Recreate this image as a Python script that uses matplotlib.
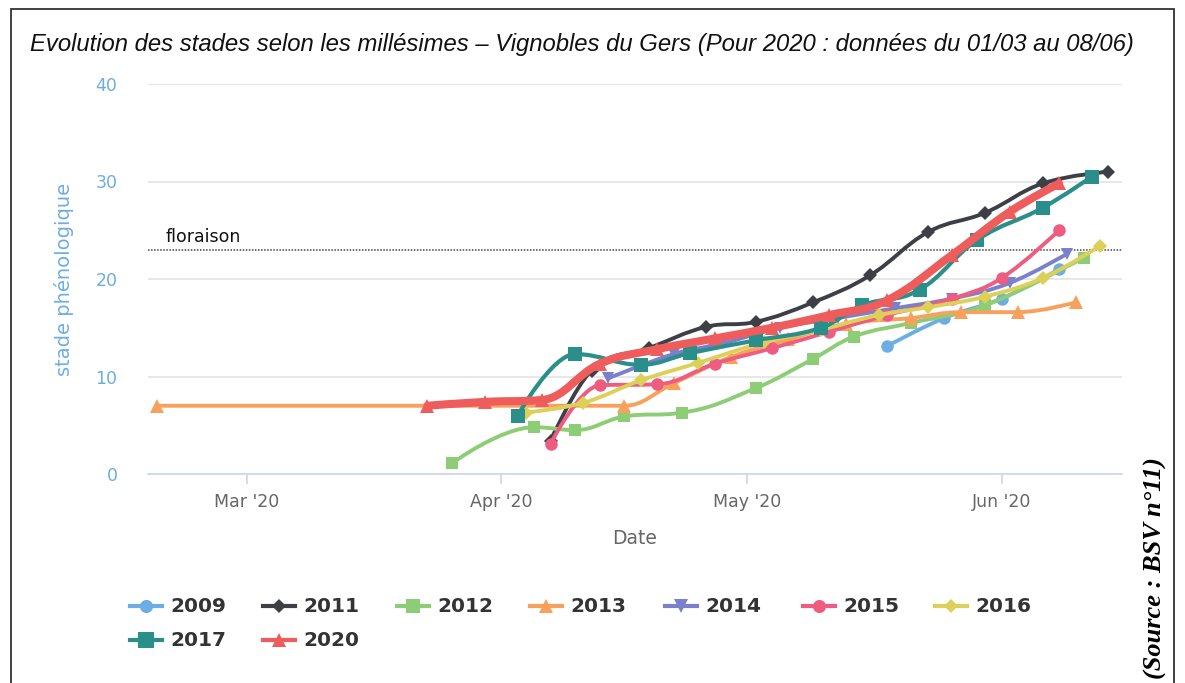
import numpy as np
import matplotlib
matplotlib.use("Agg")
import matplotlib.pyplot as plt
import matplotlib.dates as mdates
from matplotlib.path import Path
from matplotlib.patches import PathPatch, Rectangle
from matplotlib.lines import Line2D

# Donnees (stade phenologique par date, ramenee a 2020)
dates_2009 = ["2020-05-18", "2020-05-25", "2020-06-01", "2020-06-08"]
stade_2009 = [13.1, 16.0, 18.0, 21.0]

dates_2011 = ["2020-04-07", "2020-04-12", "2020-04-19", "2020-04-26", "2020-05-02",
              "2020-05-09", "2020-05-16", "2020-05-23", "2020-05-30", "2020-06-06",
              "2020-06-14"]
stade_2011 = [3.4, 10.6, 12.9, 15.1, 15.6, 17.6, 20.4, 24.8, 26.8, 29.8, 31.0]

dates_2012 = ["2020-03-26", "2020-04-05", "2020-04-10", "2020-04-16", "2020-04-23",
              "2020-05-02", "2020-05-09", "2020-05-14", "2020-05-21", "2020-05-30",
              "2020-06-11"]
stade_2012 = [1.1, 4.8, 4.5, 5.9, 6.3, 8.8, 11.8, 14.1, 15.5, 17.3, 22.2]

dates_2013 = ["2020-02-19", "2020-04-16", "2020-04-22", "2020-04-29", "2020-05-06",
              "2020-05-13", "2020-05-21", "2020-05-27", "2020-06-03", "2020-06-10"]
stade_2013 = [7.0, 7.0, 9.3, 12.0, 13.8, 15.4, 16.0, 16.6, 16.6, 17.6]

dates_2014 = ["2020-04-14", "2020-04-22", "2020-04-28", "2020-05-05", "2020-05-12",
              "2020-05-19", "2020-05-26", "2020-06-02", "2020-06-09"]
stade_2014 = [9.8, 12.3, 13.4, 15.0, 16.0, 17.0, 18.0, 19.6, 22.6]

dates_2015 = ["2020-04-07", "2020-04-13", "2020-04-20", "2020-04-27", "2020-05-04",
              "2020-05-11", "2020-05-18", "2020-05-26", "2020-06-01", "2020-06-08"]
stade_2015 = [3.1, 9.1, 9.2, 11.3, 12.9, 14.6, 16.3, 18.0, 20.1, 25.0]

dates_2016 = ["2020-04-04", "2020-04-11", "2020-04-18", "2020-04-25", "2020-05-03",
              "2020-05-10", "2020-05-17", "2020-05-23", "2020-05-30", "2020-06-06",
              "2020-06-13"]
stade_2016 = [6.3, 7.3, 9.6, 11.4, 13.5, 14.8, 16.3, 17.1, 18.2, 20.1, 23.4]

dates_2017 = ["2020-04-03", "2020-04-10", "2020-04-18", "2020-04-24", "2020-05-02",
              "2020-05-10", "2020-05-15", "2020-05-22", "2020-05-29", "2020-06-06",
              "2020-06-12"]
stade_2017 = [6.0, 12.3, 11.2, 12.4, 13.7, 15.0, 17.3, 18.9, 24.0, 27.3, 30.5]

dates_2020 = ["2020-03-23", "2020-03-30", "2020-04-06", "2020-04-13", "2020-04-20",
              "2020-04-27", "2020-05-04", "2020-05-11", "2020-05-18", "2020-05-26",
              "2020-06-02", "2020-06-08"]
stade_2020 = [7.0, 7.4, 7.6, 11.3, 12.8, 13.9, 15.0, 16.3, 17.8, 22.5, 26.9, 29.8]

floraison = 23.0

# label, dates, valeurs, couleur, marqueur, taille marqueur, epaisseur
series = [
    ("2009", dates_2009, stade_2009, "#6caee3", "o", 9.0, 2.8),
    ("2011", dates_2011, stade_2011, "#3c3f45", "D", 6.8, 2.8),
    ("2012", dates_2012, stade_2012, "#8ccd76", "s", 9.2, 2.8),
    ("2013", dates_2013, stade_2013, "#f7a15c", "^", 9.5, 2.8),
    ("2014", dates_2014, stade_2014, "#7b80cc", "v", 9.0, 2.8),
    ("2015", dates_2015, stade_2015, "#ee5c80", "o", 9.0, 2.8),
    ("2016", dates_2016, stade_2016, "#dcd058", "D", 6.8, 2.8),
    ("2017", dates_2017, stade_2017, "#2a8f8b", "s", 10.5, 3.0),
    ("2020", dates_2020, stade_2020, "#ef5c5c", "^", 10.0, 5.8),
]


def spline_path(x, y, smoothing=1.5):
    # lissage facon highcharts (courbes de bezier)
    n = len(x)
    verts = [(x[0], y[0])]
    codes = [Path.MOVETO]
    right = [None] * n
    left = [None] * n
    denom = smoothing + 1
    for i in range(1, n - 1):
        lx = (smoothing * x[i] + x[i - 1]) / denom
        ly = (smoothing * y[i] + y[i - 1]) / denom
        rx = (smoothing * x[i] + x[i + 1]) / denom
        ry = (smoothing * y[i] + y[i + 1]) / denom
        corr = 0
        if rx != lx:
            corr = (ry - ly) * (rx - x[i]) / (rx - lx) + y[i] - ry
        ly += corr
        ry += corr
        if ly > y[i - 1] and ly > y[i]:
            ly = max(y[i - 1], y[i])
            ry = 2 * y[i] - ly
        elif ly < y[i - 1] and ly < y[i]:
            ly = min(y[i - 1], y[i])
            ry = 2 * y[i] - ly
        if ry > y[i + 1] and ry > y[i]:
            ry = max(y[i + 1], y[i])
            ly = 2 * y[i] - ry
        elif ry < y[i + 1] and ry < y[i]:
            ry = min(y[i + 1], y[i])
            ly = 2 * y[i] - ry
        left[i] = (lx, ly)
        right[i] = (rx, ry)
    for i in range(1, n):
        c1 = right[i - 1] if right[i - 1] is not None else (x[i - 1], y[i - 1])
        c2 = left[i] if left[i] is not None else (x[i], y[i])
        verts += [c1, c2, (x[i], y[i])]
        codes += [Path.CURVE4] * 3
    return Path(verts, codes)


W, H = 1185, 683
fig = plt.figure(figsize=(W / 100, H / 100), dpi=100)


def fx(px):
    return px / W


def fy(py):
    return 1 - py / H


ax = fig.add_axes([fx(148), fy(474), (1122 - 148) / W, (474 - 84) / H])

for k, (lab, d, v, col, mk, ms, lw) in enumerate(series):
    xd = mdates.date2num(np.array(d, dtype="datetime64[D]"))
    yv = np.array(v, dtype=float)
    p = PathPatch(spline_path(xd, yv), facecolor="none", edgecolor=col, lw=lw,
                  capstyle="round", joinstyle="round", zorder=3 + k)
    ax.add_patch(p)
    ax.plot(xd, yv, linestyle="none", marker=mk, ms=ms, color=col,
            markeredgewidth=0, zorder=3.5 + k)

mar1 = mdates.date2num(np.datetime64("2020-03-01"))
ppd = 8.203
ax.set_xlim(mar1 + (148 - 247) / ppd, mar1 + (1122 - 247) / ppd)
ax.set_ylim(0, 40)

ax.axhline(floraison, color="#444444", lw=1.1, linestyle=(0, (1, 1)), zorder=2)
ax.text(18 / 974, floraison + 0.4, "floraison", transform=ax.get_yaxis_transform(),
        fontsize=12.5, color="#111111", va="bottom", ha="left")

ax.set_yticks([0, 10, 20, 30, 40])
ax.yaxis.grid(True, color="#e3e3e3", lw=1.2, zorder=0)
ax.set_axisbelow(True)
ax.tick_params(axis="y", length=0, pad=22, labelcolor="#6caee3", labelsize=12.5)
for s in ["top", "right", "left"]:
    ax.spines[s].set_visible(False)
ax.spines["bottom"].set_color("#ccd6eb")
ax.spines["bottom"].set_linewidth(1.2)

ax.xaxis.set_major_locator(mdates.MonthLocator())
ax.xaxis.set_major_formatter(mdates.DateFormatter("%b '%y"))
ax.tick_params(axis="x", length=7.5, width=1.2, color="#ccd6eb", labelcolor="#666666",
               labelsize=12.5, pad=6)

ax.set_xlabel("Date", fontsize=13.5, color="#666666")
ax.xaxis.set_label_coords(0.5, -(529 - 474) / 390)
ax.set_ylabel("stade phénologique", fontsize=14, color="#6caee3")
ax.yaxis.set_label_coords(-(148 - 74) / 974, 0.5)

fig.text(fx(30), fy(45), "Evolution des stades selon les millésimes – Vignobles du Gers "
         "(Pour 2020 : données du 01/03 au 08/06)", family="Liberation Sans",
         style="italic", fontsize=17.2, ha="left", va="center", color="#111111")

# legende
leg_x = [130, 263, 397, 530, 665, 803, 935, 130, 263]
leg_y = [606] * 7 + [640] * 2
for (lab, d, v, col, mk, ms, lw), lx, ly in zip(series, leg_x, leg_y):
    fig.add_artist(Line2D([fx(lx), fx(lx + 32)], [fy(ly), fy(ly)], color=col, lw=3,
                          transform=fig.transFigure))
    fig.add_artist(Line2D([fx(lx + 16)], [fy(ly)], marker=mk, ms=ms * 1.05, color=col,
                          markeredgewidth=0, transform=fig.transFigure))
    fig.text(fx(lx + 40), fy(ly), lab, fontsize=14.5, weight="bold", color="#333333",
             ha="left", va="center")

fig.text(fx(1155), fy(568), "(Source : BSV n°11)", rotation=90, family="Liberation Serif",
         weight="bold", style="italic", fontsize=19, ha="center", va="center")

fig.add_artist(Rectangle((fx(11), fy(720)), fx(1174) - fx(11), fy(9) - fy(720),
                         transform=fig.transFigure, fill=False, edgecolor="#333333",
                         lw=1.3))

fig.savefig("out.png", dpi=100)
